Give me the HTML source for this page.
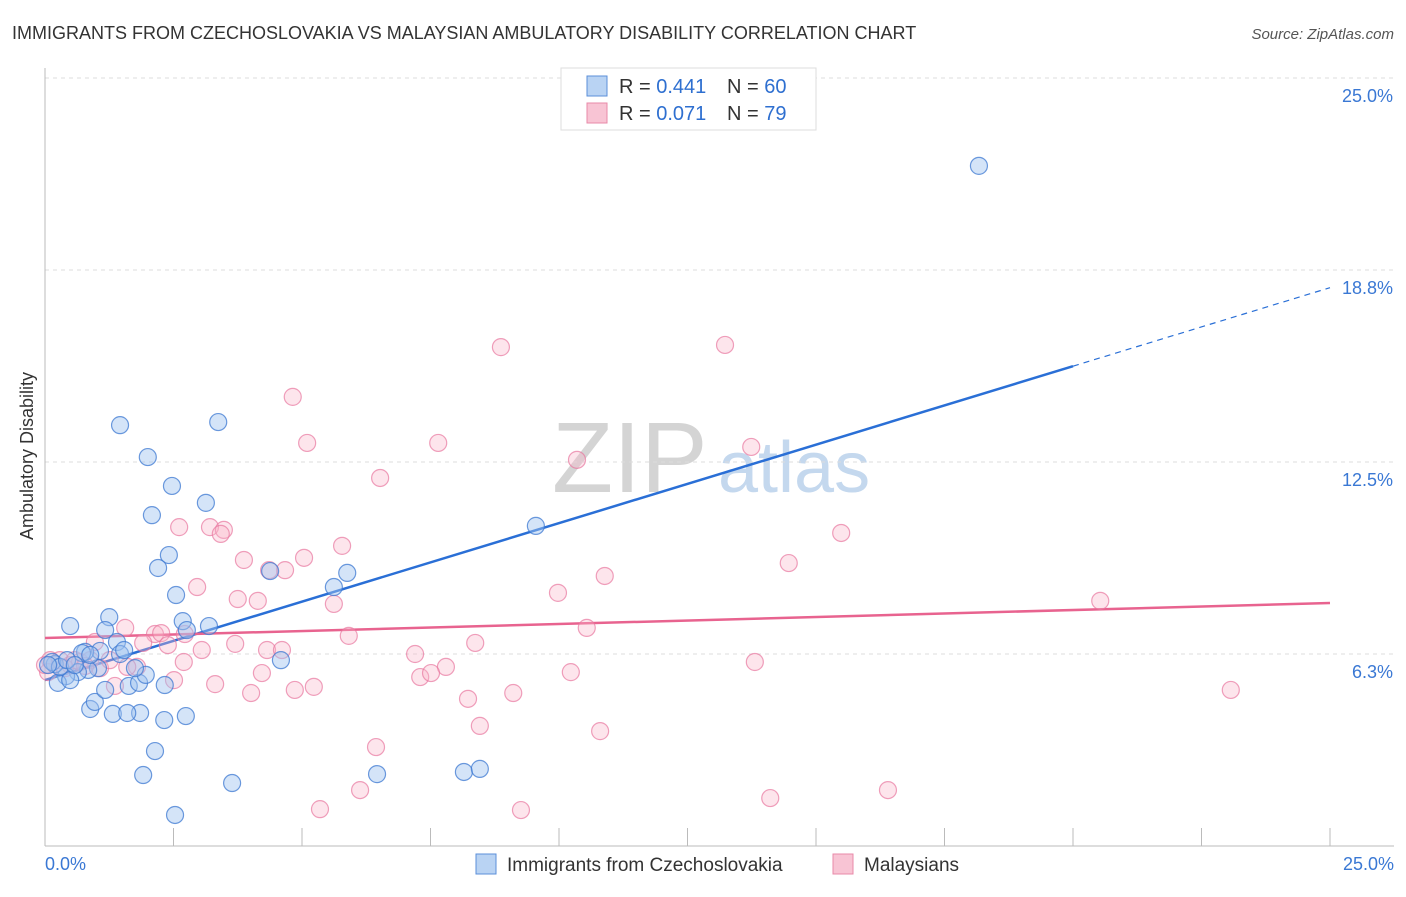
<!DOCTYPE html>
<html><head><meta charset="utf-8"><style>
body{margin:0;background:#fff;font-family:"Liberation Sans",sans-serif}
svg text{font-family:"Liberation Sans",sans-serif}
</style></head><body>
<svg id="chart" width="1406" height="892" xmlns="http://www.w3.org/2000/svg">
<text x="12" y="39" font-size="18" fill="#333">IMMIGRANTS FROM CZECHOSLOVAKIA VS MALAYSIAN AMBULATORY DISABILITY CORRELATION CHART</text>
<text x="1394" y="39" font-size="15" fill="#555" font-style="italic" text-anchor="end">Source: ZipAtlas.com</text>
<text x="33" y="456" font-size="18" fill="#333" text-anchor="middle" transform="rotate(-90 33 456)">Ambulatory Disability</text>
<g id="watermark"><text x="552" y="492" font-size="100" fill="#d4d4d4" font-family="Liberation Serif">ZIP</text><text x="718" y="492" font-size="72" fill="#c4d8ee">atlas</text></g>
<g id="grid"></g><g id="axes"></g><g id="lines"></g><g id="pts"></g>
<g>
<rect x="561" y="68" width="255" height="62" fill="#fff" stroke="#ddd"/>
<rect x="587" y="76" width="20" height="20" fill="#b9d3f3" stroke="#5b8fd9"/>
<rect x="587" y="103" width="20" height="20" fill="#f8c4d4" stroke="#e88aa8"/>
<text x="619" y="93" font-size="20" fill="#333">R = <tspan fill="#2e6fd0">0.441</tspan></text>
<text x="727" y="93" font-size="20" fill="#333">N = <tspan fill="#2e6fd0">60</tspan></text>
<text x="619" y="120" font-size="20" fill="#333">R = <tspan fill="#2e6fd0">0.071</tspan></text>
<text x="727" y="120" font-size="20" fill="#333">N = <tspan fill="#2e6fd0">79</tspan></text>
</g>
<g>
<rect x="476" y="854" width="20" height="20" fill="#b9d3f3" stroke="#5b8fd9"/>
<text x="507" y="871" font-size="19" fill="#333">Immigrants from Czechoslovakia</text>
<rect x="833" y="854" width="20" height="20" fill="#f8c4d4" stroke="#e88aa8"/>
<text x="864" y="871" font-size="19" fill="#333">Malaysians</text>
</g>
</svg>
<script>
const yTicks=[6.25,12.5,18.75,25];
const yTickLabels=["6.3%","12.5%","18.8%","25.0%"];
const xTickLabels=["0.0%","25.0%"];
const blueX=[18.17,9.55,5.88,5.62,4.38,4.59,6.46,8.15,8.46,3.64,2.53,1.91,2.14,2.32,2.74,1.85,1.32,1.60,0.88,0.97,1.17,1.63,1.83,2.33,1.96,1.46,2.00,2.47,2.08,3.13,3.37,2.41,2.20,2.55,2.68,2.76,3.19,1.25,1.17,1.40,1.46,1.54,1.07,0.78,0.72,0.49,1.03,0.84,0.64,0.41,0.25,0.49,0.19,0.14,0.29,0.06,1.75,0.43,0.58,0.88];
const blueY=[22.14,10.42,8.89,8.43,8.95,6.05,2.34,2.41,2.51,2.05,1.01,2.31,3.09,4.10,4.23,4.33,4.30,4.33,4.46,4.69,5.08,5.21,5.31,5.24,5.57,13.70,12.66,11.72,10.77,11.17,13.80,9.47,9.05,8.17,7.32,7.03,7.16,7.45,7.03,6.64,6.25,6.38,6.35,6.32,6.28,7.16,5.79,5.73,5.66,5.53,5.31,5.40,5.92,5.99,5.83,5.89,5.79,6.05,5.89,6.22];
const pinkX=[8.87,13.23,4.82,5.10,7.65,13.74,10.35,6.52,15.49,2.61,3.21,3.48,3.42,3.87,5.04,5.78,4.67,4.36,14.47,10.89,2.96,3.75,4.14,5.62,9.98,20.53,10.54,5.91,8.37,3.70,1.56,2.14,2.26,2.72,2.39,1.91,0.97,3.05,4.32,4.61,7.20,13.81,2.70,1.79,1.60,7.80,7.30,7.51,10.23,4.22,2.51,3.31,1.36,4.01,4.86,5.23,8.23,9.11,23.07,8.46,10.80,6.44,6.13,5.35,9.26,14.11,16.40,0.10,0.29,0.49,0.68,0.88,0.06,1.07,1.26,0.39,0.58,0.78,0];
const pinkY=[16.24,16.31,14.62,13.12,13.12,12.99,12.57,11.98,10.19,10.38,10.38,10.29,10.16,9.31,9.38,9.77,8.98,8.98,9.21,8.79,8.43,8.04,7.98,7.88,8.24,7.98,7.10,6.84,6.61,6.58,7.10,6.90,6.93,6.90,6.54,6.61,6.64,6.38,6.38,6.38,6.25,5.99,5.99,5.83,5.83,5.83,5.50,5.63,5.66,5.63,5.40,5.27,5.21,4.98,5.08,5.18,4.79,4.98,5.08,3.91,3.74,3.22,1.82,1.20,1.17,1.56,1.82,6.05,6.05,5.89,5.99,6.05,5.66,5.79,6.05,5.79,6.05,5.86,5.89];
const blueLine=[5.40,0.511];   // intercept, slope
const pinkLine=[6.77,0.0456];
const NS="http://www.w3.org/2000/svg";
const sx=v=>45+v*51.4, sy=v=>846-v*30.72;
function mk(tag,attrs,parent){const e=document.createElementNS(NS,tag);for(const k in attrs)e.setAttribute(k,attrs[k]);parent.appendChild(e);return e;}
const grid=document.getElementById('grid'),axes=document.getElementById('axes'),lines=document.getElementById('lines'),pts=document.getElementById('pts');
yTicks.forEach((t,i)=>{
 const l=mk('line',{x1:45,x2:1394,y1:sy(t),y2:sy(t),stroke:'#ddd','stroke-dasharray':'4,4'},grid);
 
 
 const tx=mk('text',{x:1393,y:sy(t)+24,'font-size':18,fill:'#3a78d4','text-anchor':'end'},axes);
 tx.textContent=yTickLabels[i];
 
 
});
const ax=mk('line',{x1:45,x2:45,y1:68,y2:846,stroke:'#bbb'},axes);


const bx=mk('line',{x1:45,x2:1394,y1:846,y2:846,stroke:'#bbb'},axes);


for(let i=1;i<=10;i++){const t=mk('line',{x1:sx(i*2.5),x2:sx(i*2.5),y1:828,y2:846,stroke:'#bbb'},axes);
 
 }
[[0,'start',45],[25,'end',1394]].forEach((d,i)=>{const t=mk('text',{x:d[2],y:870,'font-size':18,fill:'#3a78d4','text-anchor':d[1]},axes);t.textContent=xTickLabels[i];
 
 });
function drawPts(X,Y,fill,stroke,name){X.forEach((x,i)=>{const c=mk('circle',{cx:sx(x),cy:sy(Y[i]),r:8.5,fill:fill,stroke:stroke,'stroke-width':1.2},pts);
 
 });}
drawPts(pinkX,pinkY,'rgba(248,180,200,0.35)','rgba(232,120,160,0.7)','malaysian-point');
drawPts(blueX,blueY,'rgba(160,196,240,0.45)','rgba(60,120,210,0.75)','czech-point');
const bl=mk('line',{x1:sx(0),y1:sy(blueLine[0]),x2:sx(20),y2:sy(blueLine[0]+20*blueLine[1]),stroke:'#2a6fd6','stroke-width':2.5},lines);


const bd=mk('line',{x1:sx(20),y1:sy(blueLine[0]+20*blueLine[1]),x2:sx(25),y2:sy(blueLine[0]+25*blueLine[1]),stroke:'#2a6fd6','stroke-width':1.2,'stroke-dasharray':'6,5'},lines);


const pl=mk('line',{x1:sx(0),y1:sy(pinkLine[0]),x2:sx(25),y2:sy(pinkLine[0]+25*pinkLine[1]),stroke:'#e8638f','stroke-width':2.5},lines);


</script>
</body></html>
